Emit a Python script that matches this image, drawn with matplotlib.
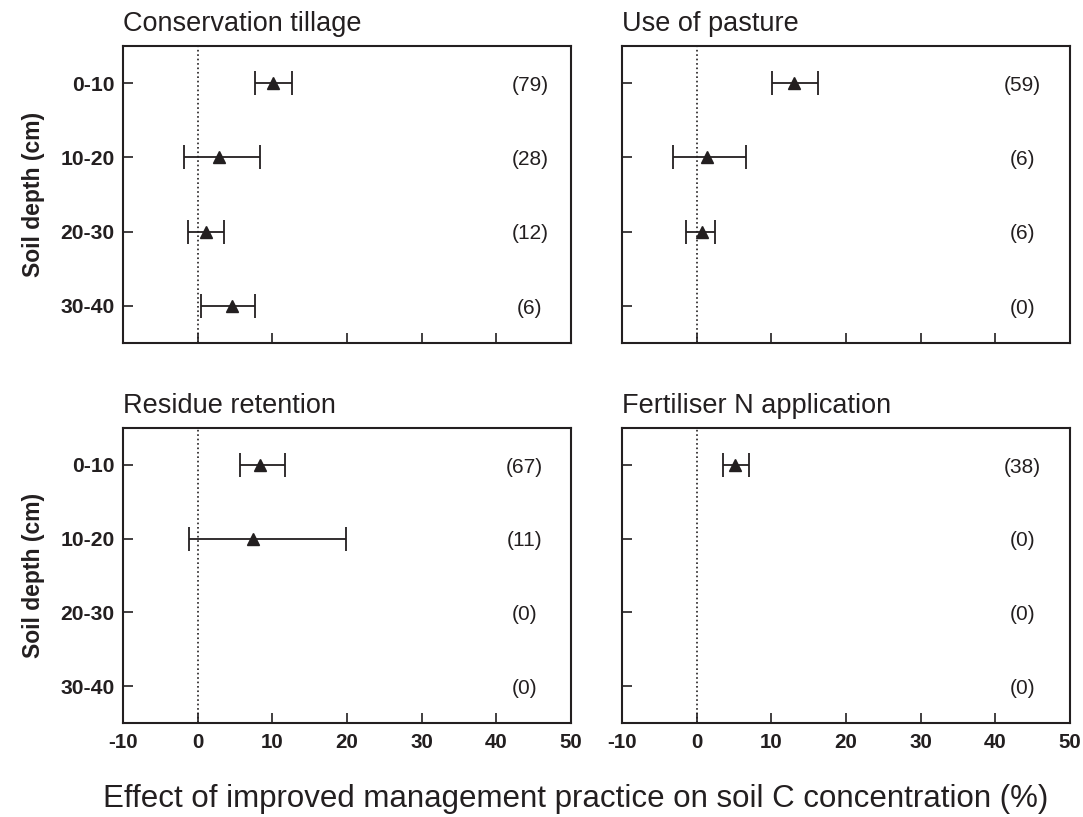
import matplotlib.pyplot as plt
import numpy as np

plt.rcParams['font.family'] = ['Liberation Sans', 'DejaVu Sans']
ink = '#231f20'
plt.rcParams['text.color'] = ink
plt.rcParams['axes.labelcolor'] = ink
plt.rcParams['xtick.color'] = ink
plt.rcParams['ytick.color'] = ink

depths = ["0-10", "10-20", "20-30", "30-40"]
titles = ["Conservation tillage", "Use of pasture",
          "Residue retention", "Fertiliser N application"]

# mean effect, lower and upper end of error bar (nan = no data)
means = [[10.1, 2.9, 1.1, 4.6],
         [13.1, 1.4, 0.7, np.nan],
         [8.4, 7.4, np.nan, np.nan],
         [5.2, np.nan, np.nan, np.nan]]
lows = [[7.7, -1.8, -1.3, 0.4],
        [10.1, -3.1, -1.4, np.nan],
        [5.6, -1.1, np.nan, np.nan],
        [3.5, np.nan, np.nan, np.nan]]
highs = [[12.6, 8.3, 3.5, 7.7],
         [16.2, 6.6, 2.5, np.nan],
         [11.7, 19.8, np.nan, np.nan],
         [7.0, np.nan, np.nan, np.nan]]
counts = [["(79)", "(28)", "(12)", "(6)"],
          ["(59)", "(6)", "(6)", "(0)"],
          ["(67)", "(11)", "(0)", "(0)"],
          ["(38)", "(0)", "(0)", "(0)"]]

fig = plt.figure(figsize=(10.83, 8.17), dpi=100)
pos = [[0.1136, 0.5802, 0.4137, 0.3635],
       [0.5743, 0.5802, 0.4137, 0.3635],
       [0.1136, 0.1151, 0.4137, 0.3610],
       [0.5743, 0.1151, 0.4137, 0.3610]]
count_x = [44.5, 43.6, 43.8, 43.6]

y = np.arange(len(depths))
for i in range(4):
    ax = fig.add_axes(pos[i])
    m = np.array(means[i])
    lo = np.array(lows[i])
    hi = np.array(highs[i])
    ax.axvline(0, color=ink, linestyle=':', linewidth=1.2)
    ax.errorbar(m, y, xerr=[m - lo, hi - m], fmt='^', color=ink,
                markersize=9, capsize=8.5, elinewidth=1.3, capthick=1.3)
    for j in range(len(depths)):
        ax.text(count_x[i], y[j] + 0.03, counts[i][j], ha='center', va='center',
                fontsize=15)
    ax.set_xlim(-10, 50)
    ax.set_ylim(3.5, -0.5)
    ax.set_xticks(np.arange(-10, 51, 10))
    ax.set_yticks(y)
    ax.tick_params(direction='in', length=7, width=1.2, top=False, right=False)
    ax.tick_params(axis='x', pad=7)
    ax.tick_params(axis='y', pad=6)
    for s in ax.spines.values():
        s.set_linewidth(1.5)
        s.set_color(ink)
    if i % 2 == 0:
        ax.set_yticklabels(depths, fontsize=15.2, fontweight='bold')
        ax.set_ylabel("Soil depth (cm)", fontsize=16.5, fontweight='bold', labelpad=11)
    else:
        ax.set_yticklabels([])
    if i >= 2:
        ax.set_xticklabels([str(v) for v in range(-10, 51, 10)],
                           fontsize=14.8, fontweight='bold')
    else:
        ax.set_xticklabels([])
    ax.set_title(titles[i], loc='left', fontsize=19.5, pad=11)

fig.text(0.532, 0.012, "Effect of improved management practice on soil C concentration (%)",
         ha='center', va='baseline', fontsize=22.5)

fig.savefig("out.png", dpi=100)
